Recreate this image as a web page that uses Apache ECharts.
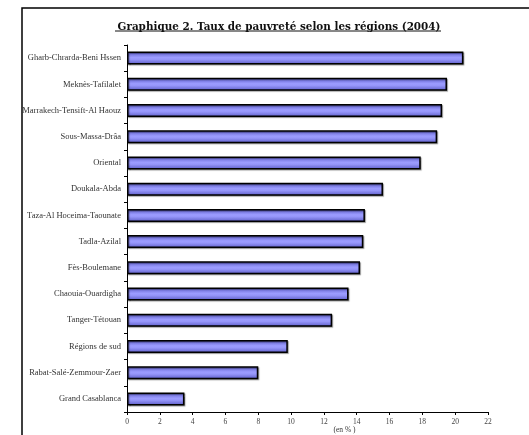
<!DOCTYPE html>
<html><head><meta charset="utf-8">
<script src="https://cdn.jsdelivr.net/npm/echarts@6/dist/echarts.min.js"></script>
<style>html,body{margin:0;padding:0;background:#fff}#c{width:529px;height:435px}</style>
</head><body><div id="c"></div>
<script>
const regions = ["Gharb-Chrarda-Beni Hssen","Meknès-Tafilalet","Marrakech-Tensift-Al Haouz","Sous-Massa-Drâa","Oriental","Doukala-Abda","Taza-Al Hoceima-Taounate","Tadla-Azilal","Fès-Boulemane","Chaouia-Ouardigha","Tanger-Tétouan","Régions de sud","Rabat-Salé-Zemmour-Zaer","Grand Casablanca"];
const rates = [20.5,19.5,19.2,18.9,17.9,15.6,14.5,14.4,14.2,13.5,12.5,9.8,8.0,3.5];
const titleText = "Graphique 2. Taux de pauvreté selon les régions (2004)";
const axisName = "(en % )";

const chart = echarts.init(document.getElementById('c'), null, {renderer:'canvas'});
chart.setOption({
  animation:false,
  backgroundColor:'#fff',
  title:{text:titleText,left:274,top:16.5,textAlign:'center',
    textStyle:{fontFamily:'DejaVu Serif',fontWeight:'bold',fontSize:10.4,color:'#111',lineHeight:12}},
  graphic:[
    {type:'rect',shape:{x:22,y:8,width:600,height:500},style:{fill:'none',stroke:'#000',lineWidth:1.5},z:-1},
    {type:'line',shape:{x1:115,y1:31,x2:441,y2:31},style:{stroke:'#111',lineWidth:1}}
  ],
  grid:{left:127,top:45,right:41,bottom:23,outerBoundsMode:'none',containLabel:false},
  xAxis:{type:'value',min:0,max:22,interval:2,
    name:axisName,nameLocation:'middle',nameGap:14,nameMoveOverlap:false,
    nameTextStyle:{fontFamily:'Liberation Serif',fontSize:7.5,color:'#333',lineHeight:8,padding:[0,0,0,74]},
    axisLine:{show:true,lineStyle:{color:'#000',width:1}},
    axisTick:{show:true,length:3,lineStyle:{color:'#000'}},
    axisLabel:{fontFamily:'Liberation Serif',fontSize:7.5,color:'#444',margin:6},
    splitLine:{show:false}},
  yAxis:{type:'category',data:regions,inverse:true,
    axisLine:{show:true,lineStyle:{color:'#000',width:1}},
    axisTick:{show:true,length:3,lineStyle:{color:'#000'}},
    axisLabel:{fontFamily:'Liberation Serif',fontSize:8.5,color:'#333',margin:6}},
  series:[{type:'bar',data:rates,barWidth:13,
    itemStyle:{
      color:new echarts.graphic.LinearGradient(0,0,0,1,[
        {offset:0,color:'#5c5cc8'},{offset:0.45,color:'#9c9cff'},{offset:0.6,color:'#9696fa'},{offset:1,color:'#5a5ac4'}]),
      borderColor:'#000',borderWidth:1.5,
      shadowColor:'rgba(0,0,0,0.35)',shadowBlur:1,shadowOffsetX:1,shadowOffsetY:1}}]
});
</script></body></html>
